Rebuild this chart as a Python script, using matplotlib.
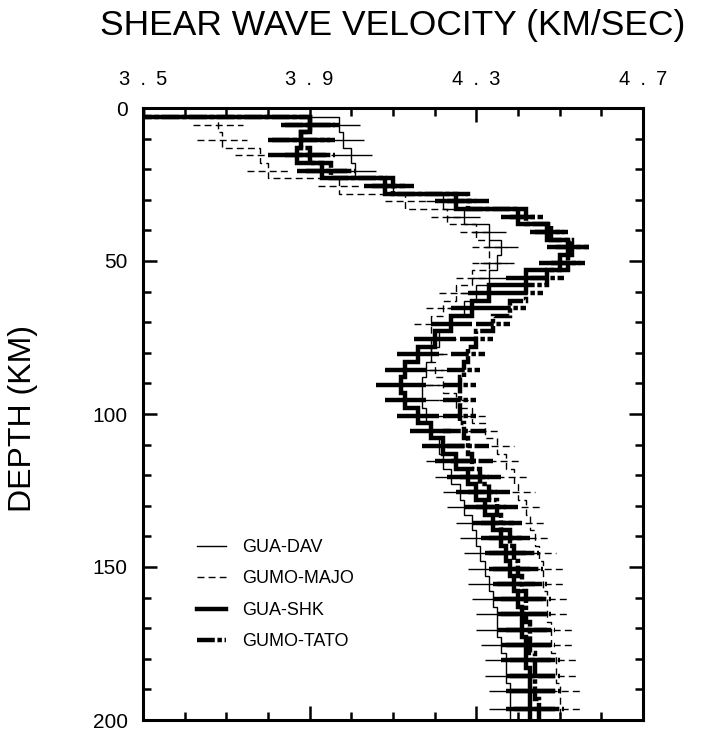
import numpy as np
import matplotlib
matplotlib.use("Agg")
import matplotlib.pyplot as plt
from matplotlib.ticker import MultipleLocator, FixedLocator, FixedFormatter

plt.rcParams['font.family'] = ['Liberation Sans', 'DejaVu Sans']

# layer boundaries (km) shared by all four inversions
depth_edges = [0, 3, 8, 13, 18, 23, 28, 33, 38, 43, 48, 53, 58, 63, 68, 73, 78, 83,
               88, 93, 98, 103, 108, 113, 118, 123, 128, 133, 138, 143, 148, 153,
               158, 163, 168, 173, 178, 183, 188, 193, 200]

# shear velocity of each layer (km/s)
gua_dav = [3.50, 3.97, 3.98, 4.00, 4.01, 4.10, 4.22, 4.27, 4.33, 4.36,
           4.35, 4.33, 4.30, 4.27, 4.24, 4.21, 4.19, 4.18, 4.17, 4.17,
           4.18, 4.19, 4.21, 4.22, 4.24, 4.26, 4.27, 4.29, 4.30, 4.31,
           4.32, 4.33, 4.34, 4.35, 4.35, 4.36, 4.37, 4.37, 4.38, 4.38]
gumo_majo = [3.50, 3.68, 3.69, 3.78, 3.80, 3.97, 4.13, 4.23, 4.30, 4.33,
             4.33, 4.29, 4.25, 4.22, 4.19, 4.19, 4.19, 4.20, 4.22, 4.25,
             4.29, 4.32, 4.35, 4.37, 4.39, 4.40, 4.42, 4.43, 4.44, 4.45,
             4.46, 4.46, 4.47, 4.47, 4.48, 4.48, 4.49, 4.49, 4.50, 4.50]
gua_shk = [3.50, 3.90, 3.88, 3.87, 3.93, 4.08, 4.25, 4.40, 4.47, 4.52,
           4.50, 4.42, 4.33, 4.29, 4.24, 4.20, 4.16, 4.13, 4.12, 4.13,
           4.16, 4.19, 4.22, 4.25, 4.28, 4.30, 4.32, 4.34, 4.36, 4.37,
           4.38, 4.39, 4.40, 4.41, 4.41, 4.42, 4.42, 4.43, 4.43, 4.43]
gumo_tato = [3.50, 3.90, 3.88, 3.90, 3.95, 4.10, 4.28, 4.42, 4.48, 4.53,
             4.52, 4.47, 4.42, 4.38, 4.34, 4.30, 4.28, 4.27, 4.26, 4.26,
             4.26, 4.27, 4.28, 4.29, 4.31, 4.33, 4.35, 4.36, 4.38, 4.39,
             4.40, 4.41, 4.42, 4.42, 4.43, 4.43, 4.44, 4.44, 4.44, 4.45]

# half-width of the velocity uncertainty of each layer
gua_dav_err = [0.0, 0.05, 0.05, 0.05, 0.05, 0.04, 0.04, 0.04, 0.04, 0.04,
               0.04, 0.04, 0.04, 0.04, 0.04, 0.04, 0.04, 0.04, 0.04, 0.04,
               0.04, 0.04, 0.04, 0.04, 0.04, 0.04, 0.04, 0.04, 0.04, 0.04,
               0.04, 0.05, 0.05, 0.05, 0.05, 0.05, 0.05, 0.05, 0.05, 0.05]
gumo_majo_err = [0.0, 0.06, 0.06, 0.06, 0.05, 0.05, 0.05, 0.04, 0.04, 0.04,
                 0.04, 0.04, 0.04, 0.04, 0.04, 0.04, 0.04, 0.04, 0.04, 0.04,
                 0.04, 0.04, 0.04, 0.04, 0.04, 0.04, 0.04, 0.04, 0.04, 0.04,
                 0.05, 0.05, 0.05, 0.05, 0.05, 0.05, 0.05, 0.05, 0.05, 0.05]
gua_shk_err = [0.0, 0.07, 0.08, 0.07, 0.06, 0.05, 0.05, 0.04, 0.04, 0.05,
               0.05, 0.05, 0.05, 0.05, 0.05, 0.05, 0.05, 0.05, 0.06, 0.05,
               0.05, 0.05, 0.05, 0.05, 0.05, 0.05, 0.05, 0.05, 0.05, 0.05,
               0.05, 0.05, 0.06, 0.06, 0.06, 0.06, 0.06, 0.06, 0.06, 0.06]
gumo_tato_err = [0.0, 0.06, 0.07, 0.06, 0.06, 0.05, 0.05, 0.04, 0.04, 0.04,
                 0.04, 0.04, 0.04, 0.04, 0.04, 0.04, 0.04, 0.04, 0.04, 0.04,
                 0.04, 0.05, 0.05, 0.05, 0.05, 0.05, 0.05, 0.05, 0.05, 0.06,
                 0.06, 0.06, 0.06, 0.06, 0.06, 0.06, 0.06, 0.06, 0.06, 0.06]

names = ['GUA-DAV', 'GUMO-MAJO', 'GUA-SHK', 'GUMO-TATO']
x_ticks = [3.5, 3.9, 4.3, 4.7]
x_ticklabels = ['3\u2002.\u20025', '3\u2002.\u20029', '4\u2002.\u20023', '4\u2002.\u20027']
y_ticks = [0, 50, 100, 150, 200]

styles = [
    dict(ls='-', lw=1.0),
    dict(ls=(0, (5, 3)), lw=1.0),
    dict(ls='-', lw=3.2),
    dict(ls=(0, (4, 0.6, 1, 0.6)), lw=3.2),
]

fig = plt.figure(figsize=(7.05, 7.34), dpi=100)
ax = fig.add_axes([143 / 705, 14 / 734, 500 / 705, 612 / 734])

edges = np.array(depth_edges, dtype=float)
mids = 0.5 * (edges[:-1] + edges[1:])
models = [(gua_dav, gua_dav_err), (gumo_majo, gumo_majo_err),
          (gua_shk, gua_shk_err), (gumo_tato, gumo_tato_err)]

handles = []
for name, (vel, err), st in zip(names, models, styles):
    vel = np.array(vel)
    err = np.array(err)
    ax.stairs(vel, edges, orientation='horizontal', baseline=None,
              color='black', linestyle=st['ls'], linewidth=st['lw'])
    keep = err > 0
    ax.hlines(mids[keep], vel[keep] - err[keep], vel[keep] + err[keep],
              colors='black', linestyles=[st['ls']], linewidth=st['lw'])
    h, = ax.plot([], [], color='black', linestyle=st['ls'], linewidth=st['lw'],
                 label=name)
    handles.append(h)

ax.set_xlim(3.5, 4.7)
ax.set_ylim(200, 0)

ax.xaxis.set_major_locator(FixedLocator(x_ticks))
ax.xaxis.set_major_formatter(FixedFormatter(x_ticklabels))
ax.xaxis.set_minor_locator(MultipleLocator(0.1))
ax.yaxis.set_major_locator(FixedLocator(y_ticks))
ax.yaxis.set_minor_locator(MultipleLocator(10))

ax.tick_params(which='both', direction='in', top=True, bottom=True,
               left=True, right=True, labeltop=True, labelbottom=False,
               width=1.8, color='black')
ax.tick_params(which='major', length=10)
ax.tick_params(which='minor', length=6)
ax.tick_params(axis='x', which='major', labelsize=14.5, pad=14)
ax.tick_params(axis='y', which='major', labelsize=15, pad=11)
for sp in ax.spines.values():
    sp.set_linewidth(2.2)

fig.text(0.557, 0.965, 'SHEAR WAVE VELOCITY (KM/SEC)', ha='center',
         va='center', fontsize=25.5)
fig.text(0.032, 0.43, 'DEPTH (KM)', ha='center', va='center',
         rotation=90, fontsize=23)

ax.legend(handles=handles, loc='upper left', bbox_to_anchor=(197 / 705, 1 - 539 / 734),
          bbox_transform=fig.transFigure, frameon=False, fontsize=13,
          handlelength=1.6, handletextpad=0.9, labelspacing=0.8,
          borderpad=0, borderaxespad=0)

fig.savefig('out.png', dpi=100)
